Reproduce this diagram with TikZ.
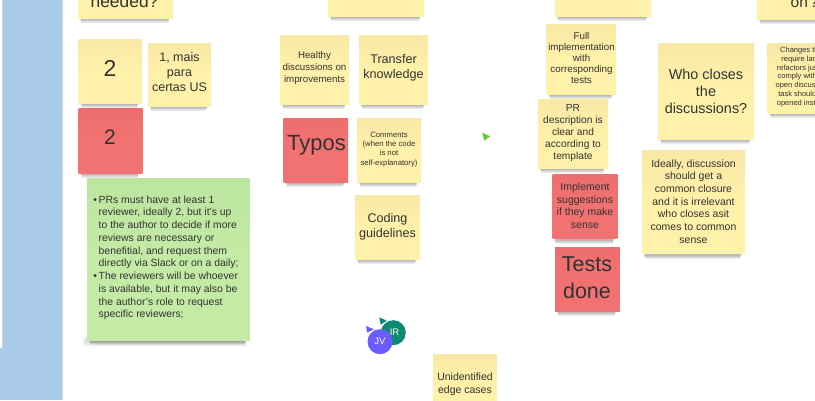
\documentclass[tikz,border=0pt]{standalone}
\usepackage{fontspec}
\setmainfont{Liberation Sans}
\definecolor{panel}{HTML}{A9CBE8}
\definecolor{paneledge}{HTML}{C9D6E2}
\definecolor{ink}{HTML}{333333}
\definecolor{yellowtop}{HTML}{F9E8A6}
\definecolor{yellowbase}{HTML}{FEF1A9}
\definecolor{redtop}{HTML}{EE6E6E}
\definecolor{redbase}{HTML}{F27171}
\definecolor{greentop}{HTML}{BCE5A0}
\definecolor{greenbase}{HTML}{C3EBA5}
\definecolor{cursorgreen}{HTML}{5CCB2A}
\definecolor{avatarteal}{HTML}{0D8A72}
\definecolor{avatarviolet}{HTML}{6C5CFF}
\tikzset{
  yellownote/.style={top color=yellowtop,bottom color=yellowbase,middle color=yellowbase},
  rednote/.style={top color=redtop,bottom color=redbase,middle color=redbase},
  greennote/.style={top color=greentop,bottom color=greenbase,middle color=greenbase},
  label/.style={inner sep=0pt,align=center,text=ink,anchor=center},
  avatartext/.style={inner sep=0pt,text=white,font=\fontsize{9.5}{10}\selectfont},
}
\newcounter{notecount}
\newcommand{\stickynote}[5]{%
  \foreach \g in {0,1,2,3}{%
    \fill[black,opacity=.075] ({#2+3-\g/2},{#4-4}) rectangle ({#3-5+\g/2},{#4+5-\g});
  }
  \path[#5] (#2,#1) rectangle (#3,#4);
}
\newcommand{\notetext}[5]{\stepcounter{notecount}\node[label,font=\fontsize{#3}{#4}\selectfont] (note\thenotecount) at (#1,#2) {#5};}
\begin{document}
\begin{tikzpicture}[x=1pt,y=-1pt]
\useasboundingbox (0,0) rectangle (815,400);
\begin{scope}
\clip (0,0) rectangle (815,400);
\fill[white] (0,0) rectangle (815,400);
\fill[panel] (2,0) rectangle (62,400);
\fill[panel] (0,348) rectangle (2,400);
\fill[paneledge] (62,0) rectangle (63,400);
\fill[paneledge] (2,0) rectangle (2.6,348);
% syntax: top, left, right, bottom, style
\stickynote{-40}{78}{173}{18}{yellownote}
\stickynote{39.5}{78.5}{142}{103}{yellownote}
\stickynote{43}{148}{211}{106}{yellownote}
\stickynote{108.5}{78.5}{142.5}{173}{rednote}
\foreach \g in {0,1,2,3,4,5,6,7,8}{\fill[black,opacity=.022] ({88-\g*.7},{340-\g/2}) rectangle ({243+\g/2},{339+\g});}
\stickynote{178}{87}{249.5}{340}{greennote}
\stickynote{-40}{328}{424}{16}{yellownote}
\stickynote{35}{280}{349}{104}{yellownote}
\stickynote{35}{359}{428}{104}{yellownote}
\stickynote{118}{283.5}{348}{182}{rednote}
\stickynote{118}{357}{421}{182}{yellownote}
\stickynote{195}{355}{420}{259}{yellownote}
\stickynote{-40}{555}{651}{16}{yellownote}
\stickynote{-40}{757}{830}{19}{yellownote}
\stickynote{24.5}{546.5}{616}{94}{yellownote}
\stickynote{99}{538}{608}{168}{yellownote}
\stickynote{174.5}{552.5}{617.5}{238.5}{rednote}
\stickynote{247.5}{555}{619.5}{311}{rednote}
\stickynote{43}{658}{754}{139}{yellownote}
\stickynote{150.5}{642}{745}{253.5}{yellownote}
\stickynote{43}{767.5}{837}{113}{yellownote}
\stickynote{354}{433}{497}{418}{yellownote}
% texts
\notetext{124.5}{1.5}{17.4}{20}{needed?}
\notetext{110}{68}{23}{26}{2}
\notetext{179.5}{72.5}{12.5}{15}{1, mais\\para\\certas US}
\notetext{110}{137}{21}{24}{2}
\node[label,align=left,anchor=north west,font=\fontsize{10.4}{12.75}\selectfont] (greentext) at (98.5,195.5) {\llap{•\kern1.6pt}PRs must have at least 1\\reviewer, ideally 2, but it's up\\to the author to decide if more\\reviews are necessary or\\benefitial, and request them\\directly via Slack or on a daily;\\\llap{•\kern1.6pt}The reviewers will be whoever\\is available, but it may also be\\the author's role to request\\specific reviewers;};
\notetext{314.5}{68}{9.7}{11.7}{Healthy\\discussions on\\improvements}
\notetext{393.5}{68}{12.6}{15}{Transfer\\knowledge}
\notetext{316.5}{145.5}{22}{24}{Typos}
\notetext{389}{149.5}{7.7}{9.2}{Comments\\(when the code\\is not\\self-explanatory)}
\notetext{387.5}{226.5}{12.6}{15}{Coding\\guidelines}
\notetext{581.5}{58}{9.8}{11}{Full\\implementation\\with\\corresponding\\tests}
\notetext{573}{133}{10.2}{12.2}{PR\\description is\\clear and\\according to\\template}
\notetext{585}{205.5}{10.5}{12.5}{Implement\\suggestions\\if they make\\sense}
\notetext{587}{277.5}{21.5}{27}{Tests\\done}
\notetext{706}{91}{14.4}{17}{Who closes\\the\\discussions?}
\notetext{693.5}{201.5}{10.5}{12.67}{Ideally, discussion\\should get a\\common closure\\and it is irrelevant\\who closes asit\\comes to common\\sense}
\notetext{802.5}{77}{7.5}{8.85}{Changes that\\require large\\refactors just to\\comply with an\\open discussion\\task should be\\opened instead}
\notetext{465}{384.5}{10.5}{13}{Unidentified\\edge cases}
\node[label,anchor=west,font=\fontsize{15.5}{18}\selectfont] (onnote) at (790.5,2) {on\kern2pt?};
% cursors
\fill[cursorgreen] (482.3,132.7) -- (490,136.3) -- (484.3,140.7) -- cycle;
\fill[avatarteal] (379.3,317.3) -- (386.7,320.7) -- (380.7,324.7) -- cycle;
\fill[avatarviolet] (366,326) -- (374,329.3) -- (367.3,332.7) -- cycle;
\fill[avatarteal] (393.3,332.7) circle[radius=12.5];
\node[avatartext] (ir) at (394.5,332) {IR};
\fill[avatarviolet] (380,341.7) circle[radius=12.5];
\node[avatartext] (jv) at (380,341.7) {JV};
\end{scope}
\end{tikzpicture}
\end{document}
